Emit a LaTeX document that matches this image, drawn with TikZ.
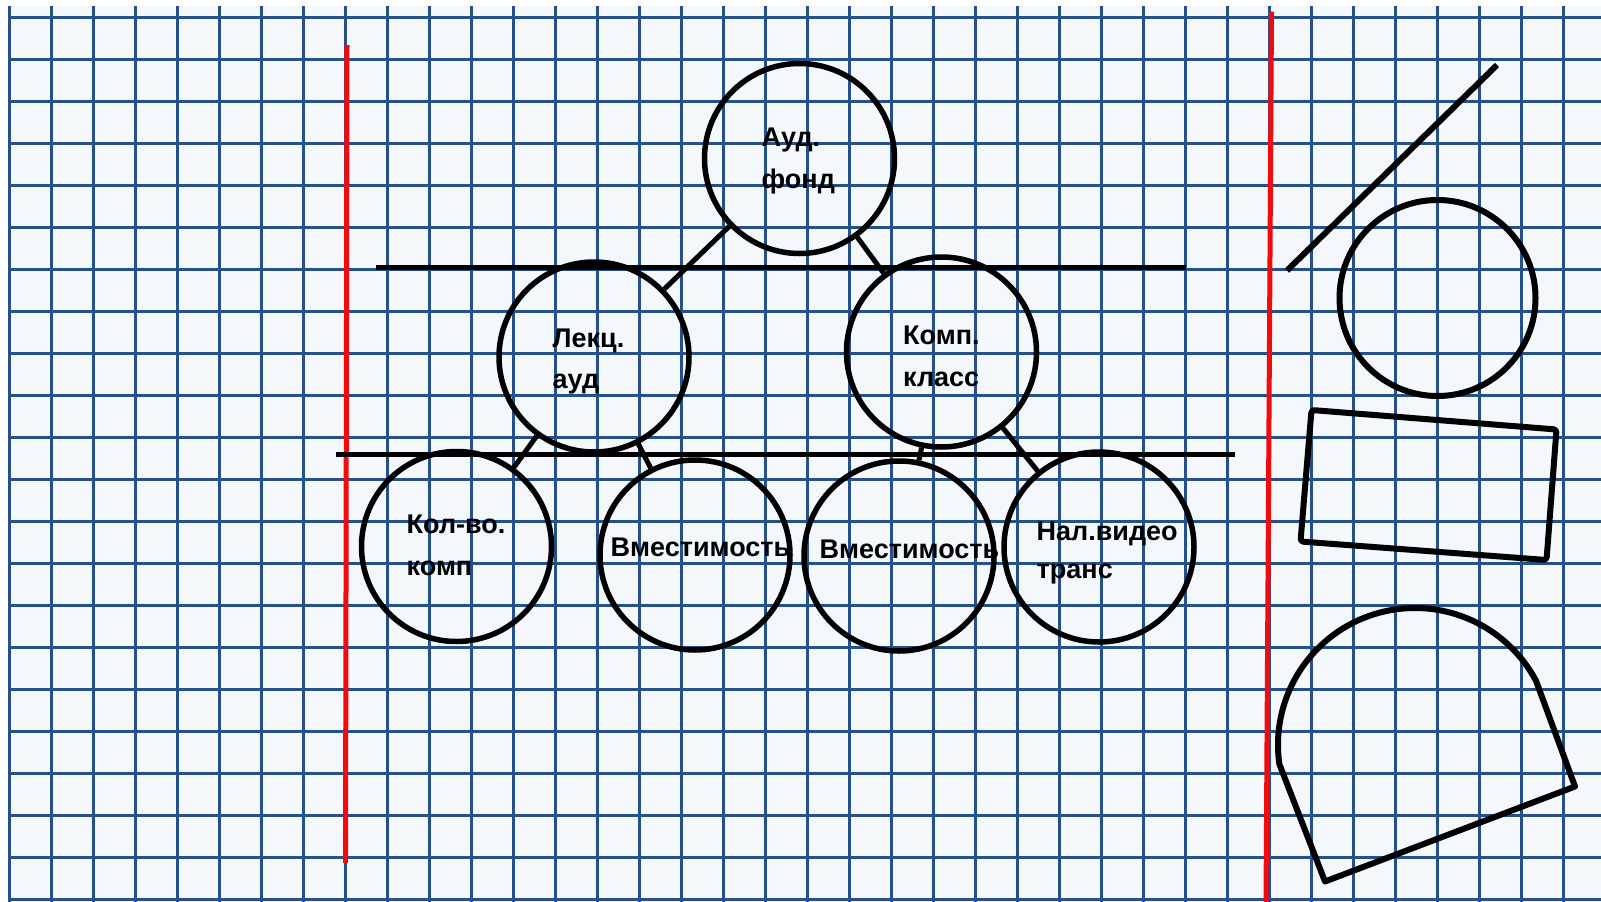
\documentclass[tikz,border=0pt]{standalone}
\usepackage{fontspec}
\setmainfont{Liberation Sans}
\usetikzlibrary{calc}
\definecolor{paperbg}{RGB}{244,247,252}
\definecolor{gridblue}{RGB}{36,80,140}
\definecolor{marginred}{RGB}{240,12,12}
\tikzset{
  gridline/.style={draw=gridblue,line width=3pt},
  redline/.style={draw=marginred,line width=5pt},
  bubble/.style={circle,draw=black,line width=5.5pt,minimum size=190pt,inner sep=0pt},
  link/.style={draw=black,line width=5pt},
  bar/.style={draw=black,line width=5pt},
  shapeline/.style={draw=black,line width=6pt,line join=round},
  lbl/.style={anchor=base west,inner sep=0pt,font=\bfseries\fontsize{27}{32}\selectfont}
}
\begin{document}
\begin{tikzpicture}[x=1pt,y=-1pt]
\useasboundingbox (0,0) rectangle (1601,902);
\fill[white] (0,0) rectangle (1601,902);
\fill[paperbg] (9,6) rectangle (1601,902);
\foreach \i in {0,...,37} \draw[gridline] ({9+42*\i},6) -- ({9+42*\i},902);
\foreach \j in {0,...,21} \draw[gridline] (9,{17+42*\j}) -- (1601,{17+42*\j});
% margin lines
\coordinate (rl1) at (347,45);
\coordinate (rl2) at (345.5,863);
\coordinate (rr1) at (1271.5,11.5);
\coordinate (rr2) at (1266,902);
\draw[redline] (rl1) -- (rl2);
\draw[redline] (rr1) -- (rr2);
% level bars
\coordinate (b1a) at (376,267.5);
\coordinate (b1b) at (1186,267.5);
\coordinate (b2a) at (336,454);
\coordinate (b2b) at (1235,454);
\draw[bar] (b1a) -- (b1b);
\draw[bar] (b2a) -- (b2b);
% circles
\node[bubble] (aud) at (799.5,158.5) {};
\node[bubble] (lek) at (594,357) {};
\node[bubble] (komp) at (941.5,352) {};
\node[bubble] (kol) at (456.5,546.5) {};
\node[bubble] (vm1) at (695,555) {};
\node[bubble] (vm2) at (899,556) {};
\node[bubble] (nal) at (1099,547) {};
% connectors
\draw[link] (aud) -- (lek);
\draw[link] (aud) -- (komp);
\draw[link] (lek) -- (kol);
\draw[link] (lek) -- (vm1);
\draw[link] (komp) -- (vm2);
\draw[link] (komp) -- (nal);
% labels
\node[lbl] (t1) at (761.5,146.5) {Ауд.};
\node[lbl] (t2) at (761.5,188) {фонд};
\node[lbl] (t3) at (552.5,347.5) {Лекц.};
\node[lbl] (t4) at (552.5,388.5) {ауд};
\node[lbl] (t5) at (903,344.5) {Комп.};
\node[lbl] (t6) at (903,386.5) {класс};
\node[lbl] (t7) at (406.5,533) {Кол-во.};
\node[lbl] (t8) at (406.5,575) {комп};
\node[lbl] (t9) at (610.5,556) {Вместимость};
\node[lbl] (t10) at (819.5,558) {Вместимость};
\node[lbl] (t11) at (1036.5,540) {Нал.видео};
\node[lbl] (t12) at (1036.5,578) {транс};
% right-hand figures
\coordinate (d1) at (1287,270.5);
\coordinate (d2) at (1497,65);
\draw[shapeline] (d1) -- (d2);
\node[circle,draw=black,line width=6pt,minimum size=196pt,inner sep=0pt] (rc) at (1437.5,298) {};
\coordinate (q1) at (1311.5,410);
\coordinate (q2) at (1556.5,429.5);
\coordinate (q3) at (1546.5,560);
\coordinate (q4) at (1300.5,541.5);
\draw[shapeline,rounded corners=3pt] (q1) -- (q2) -- (q3) -- (q4) -- cycle;
\coordinate (hc) at (1415,745);
\coordinate (h1) at (1575,786.5);
\coordinate (h2) at (1325,881.5);
\draw[shapeline] ($(hc)+(172:137)$) arc[start angle=172,end angle=332,radius=137] -- (h1) -- (h2) -- cycle;
\end{tikzpicture}
\end{document}
